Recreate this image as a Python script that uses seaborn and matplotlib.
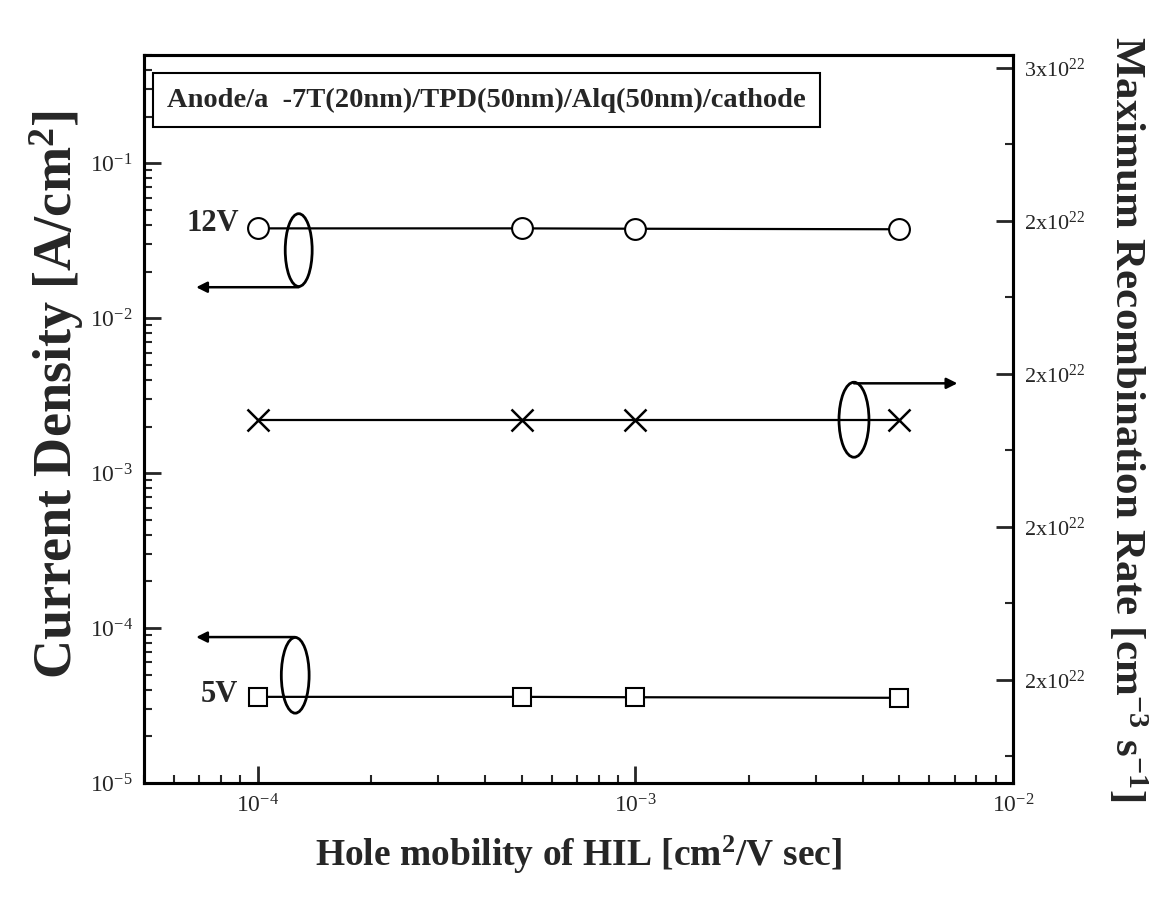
import numpy as np
import pandas as pd
import matplotlib
matplotlib.use("Agg")
import matplotlib.pyplot as plt
import seaborn as sns
from matplotlib.patches import Ellipse
from matplotlib.ticker import FixedLocator, MultipleLocator, FuncFormatter, LogLocator, NullFormatter

# ---- data ----
mobility = [1e-4, 5e-4, 1e-3, 5e-3]
current_12v = [3.8e-2, 3.8e-2, 3.78e-2, 3.75e-2]
current_5v = [3.6e-5, 3.6e-5, 3.58e-5, 3.55e-5]
recomb_rate = [2.14e22, 2.14e22, 2.14e22, 2.14e22]
right_ticks = [1.8e22, 2.0e22, 2.2e22, 2.4e22, 2.6e22]
box_text = "Anode/a  -7T(20nm)/TPD(50nm)/Alq(50nm)/cathode"

sns.set_style("ticks")
plt.rcParams["font.family"] = ["Liberation Serif", "DejaVu Serif"]
plt.rcParams["mathtext.fontset"] = "custom"
plt.rcParams["mathtext.rm"] = "Liberation Serif"
plt.rcParams["mathtext.it"] = "Liberation Serif:italic"
plt.rcParams["mathtext.bf"] = "Liberation Serif:bold"

fig = plt.figure(figsize=(11.68, 8.98), dpi=100)
ax = fig.add_axes([0.1233, 0.128, 0.8673 - 0.1233, 0.9388 - 0.128])
ax.set_xscale("log")
ax.set_yscale("log")
ax.set_xlim(5e-5, 1e-2)
ax.set_ylim(1e-5, 0.5)

line_kw = dict(color="black", lw=1.6, markersize=15, markerfacecolor="white",
               markeredgecolor="black", markeredgewidth=1.5)
sns.lineplot(x=mobility, y=current_12v, ax=ax, marker="o", **line_kw)
sns.lineplot(x=mobility, y=current_5v, ax=ax, marker="s", **{**line_kw, "markersize": 13})

ax2 = ax.twinx()
ax2.set_ylim(1.665e22, 2.617e22)
sns.lineplot(x=mobility, y=recomb_rate, ax=ax2, marker="x", color="black", lw=1.6,
             markersize=16, markeredgewidth=1.8, markeredgecolor="black")

# ticks
ax.set_xticks([1e-4, 1e-3, 1e-2])
ax.xaxis.set_minor_locator(LogLocator(base=10, subs=np.arange(2, 10)))
ax.xaxis.set_minor_formatter(NullFormatter())
ax.set_yticks([1e-5, 1e-4, 1e-3, 1e-2, 1e-1])
ax.yaxis.set_minor_locator(LogLocator(base=10, subs=np.arange(2, 10)))
ax.yaxis.set_minor_formatter(NullFormatter())
ax.tick_params(which="major", direction="in", length=12, width=2, labelsize=17,
               top=False, right=False, pad=8)
ax.tick_params(which="minor", direction="in", length=6, width=1.5, top=False, right=False)

ax2.yaxis.set_major_locator(FixedLocator(right_ticks))
ax2.yaxis.set_major_formatter(FuncFormatter(lambda v, p: f"{v/1e22:.0f}x10$^{{22}}$"))
ax2.yaxis.set_minor_locator(MultipleLocator(1e21))
ax2.tick_params(which="major", direction="in", length=12, width=2, labelsize=16, pad=8)
ax2.tick_params(which="minor", direction="in", length=6, width=1.5)

for a in (ax, ax2):
    for s in a.spines.values():
        s.set_linewidth(2.2)
        s.set_color("black")

ax.set_xlabel("Hole mobility of HIL [cm$^\\mathbf{2}$/V sec]", fontsize=27, fontweight="bold", labelpad=12)
ax.set_ylabel("Current Density [A/cm$^\\mathbf{2}$]", fontsize=39, fontweight="bold")
ax.yaxis.set_label_coords(-0.067, 0.533)
ax2.set_ylabel("Maximum Recombination Rate [cm$^\\mathbf{-3}$ s$^\\mathbf{-1}$]", fontsize=31,
               fontweight="bold", rotation=270, labelpad=46)

# annotation box
ax.text(0.394, 0.938, box_text, transform=ax.transAxes, ha="center", va="center",
        fontsize=20.5, fontweight="bold",
        bbox=dict(boxstyle="square,pad=0.5", fc="white", ec="black", lw=1.5))

ax.text(0.110, 0.768, "12V", transform=ax.transAxes, ha="right", va="center",
        fontsize=22, fontweight="bold")
ax.text(0.108, 0.121, "5V", transform=ax.transAxes, ha="right", va="center",
        fontsize=22, fontweight="bold")

# ellipses and arrows
for (cx, cy, w, h) in [(0.178, 0.732, 0.031, 0.100), (0.174, 0.148, 0.032, 0.104),
                       (0.817, 0.499, 0.0345, 0.103)]:
    ax2.add_patch(Ellipse((cx, cy), w, h, transform=ax2.transAxes, fill=False,
                          lw=2, ec="black", zorder=5))

arrow = dict(arrowstyle="-|>", lw=1.8, color="black", mutation_scale=16, shrinkA=0, shrinkB=0)
ax2.annotate("", xy=(0.060, 0.681), xytext=(0.178, 0.681), xycoords="axes fraction", arrowprops=arrow)
ax2.annotate("", xy=(0.060, 0.2005), xytext=(0.174, 0.2005), xycoords="axes fraction", arrowprops=arrow)
ax2.annotate("", xy=(0.936, 0.549), xytext=(0.817, 0.549), xycoords="axes fraction", arrowprops=arrow)

fig.savefig("out.png", dpi=100)
